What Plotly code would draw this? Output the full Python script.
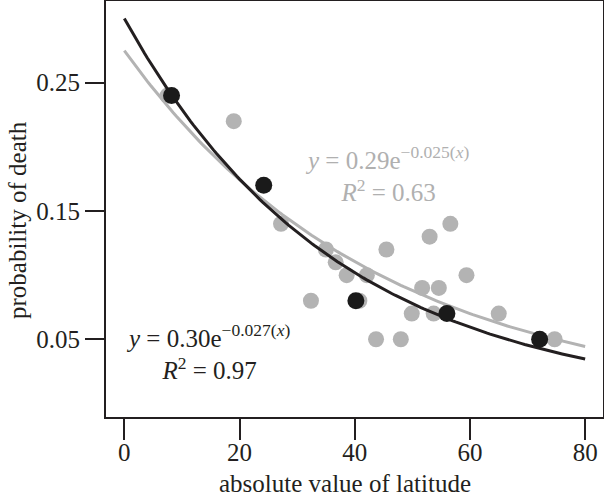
import numpy as np
import plotly.graph_objects as go

# gray (all sites) data points
gray_x = [7.5, 19.0, 27.2, 56.6, 53.0, 45.5, 35.0, 36.7, 38.6, 42.1, 59.4, 51.7, 54.6,
          32.4, 40.8, 49.9, 53.7, 65.0, 43.7, 48.0, 74.7]
gray_y = [0.24, 0.22, 0.14, 0.14, 0.13, 0.12, 0.12, 0.11, 0.10, 0.10, 0.10, 0.09, 0.09,
          0.08, 0.08, 0.07, 0.07, 0.07, 0.05, 0.05, 0.05]
# black (binned) data points
black_x = [8.2, 24.2, 40.2, 56.0, 72.1]
black_y = [0.24, 0.17, 0.08, 0.07, 0.05]

# exponential fits y = a * exp(-k x) as drawn
gray_a, gray_k = 0.275, 0.0228
black_a, black_k = 0.30, 0.027
fit_x = np.linspace(0, 80, 161)

x_ticks = [0, 20, 40, 60, 80]
y_ticks = [0.05, 0.15, 0.25]
y_tick_text = ["0.05", "0.15", "0.25"]

INK = "#231f20"
GRAY = "#b3b3b3"
GRAY_TXT = "#b0b0b0"
FONT = "Liberation Serif"
FS = 25

fig = go.Figure()
fig.add_trace(go.Scatter(x=fit_x, y=gray_a * np.exp(-gray_k * fit_x), mode="lines",
                         line=dict(color=GRAY, width=3), showlegend=False, hoverinfo="skip"))
fig.add_trace(go.Scatter(x=gray_x, y=gray_y, mode="markers",
                         marker=dict(color=GRAY, size=16, line=dict(width=0)), showlegend=False))
fig.add_trace(go.Scatter(x=fit_x, y=black_a * np.exp(-black_k * fit_x), mode="lines",
                         line=dict(color=INK, width=3), showlegend=False, hoverinfo="skip"))
fig.add_trace(go.Scatter(x=black_x, y=black_y, mode="markers",
                         marker=dict(color="#1a1a1a", size=17, line=dict(width=0)), showlegend=False))

fig.add_annotation(x=45.6, y=0.1788, xref="x", yref="y", xanchor="center", yanchor="middle",
                   align="center",
                   text="<i>y</i> = 0.29e<sup>\u22120.025(<i>x</i>)</sup><br><i>R</i><sup>2</sup> = 0.63",
                   showarrow=False, font=dict(family=FONT, size=FS, color=GRAY_TXT))
fig.add_annotation(x=14.6, y=0.0397, xref="x", yref="y", xanchor="center", yanchor="middle",
                   align="center",
                   text="<i>y</i> = 0.30e<sup>\u22120.027(<i>x</i>)</sup><br><i>R</i><sup>2</sup> = 0.97",
                   showarrow=False, font=dict(family=FONT, size=FS, color=INK))

# axis titles
fig.add_annotation(x=(345 - 106) / 497, y=(417 - 483) / 416, xref="paper", yref="paper",
                   xanchor="center", yanchor="middle", text="absolute value of latitude",
                   showarrow=False, font=dict(family=FONT, size=FS, color=INK))
fig.add_annotation(x=(17 - 106) / 497, y=(417 - 220) / 416, xref="paper", yref="paper",
                   xanchor="center", yanchor="middle", text="probability of death", textangle=-90,
                   showarrow=False, font=dict(family=FONT, size=FS, color=INK))

fig.update_layout(
    width=604, height=496,
    margin=dict(l=106, r=1, t=1, b=79, autoexpand=False),
    paper_bgcolor="white", plot_bgcolor="white",
    font=dict(family=FONT, size=FS, color=INK),
    xaxis=dict(range=[-3.18, 83.1], tickvals=x_ticks, ticks="outside", ticklen=21, tickwidth=2,
               tickcolor=INK, showline=True, mirror=True, linecolor=INK, linewidth=2,
               showgrid=False, zeroline=False, automargin=False, ticklabelstandoff=-9,
               tickfont=dict(family=FONT, size=FS, color=INK)),
    yaxis=dict(range=[-0.0106, 0.3137], tickvals=y_ticks, ticktext=y_tick_text, ticks="outside",
               ticklen=19, tickwidth=2, tickcolor=INK, showline=True, mirror=True, linecolor=INK,
               linewidth=2, showgrid=False, zeroline=False, automargin=False,
               tickfont=dict(family=FONT, size=FS, color=INK)),
)

fig.write_html("out.html", config={"displayModeBar": False},
               post_script="document.body.style.margin='0';document.body.style.padding='0';"
                           "document.body.style.overflow='hidden';")
